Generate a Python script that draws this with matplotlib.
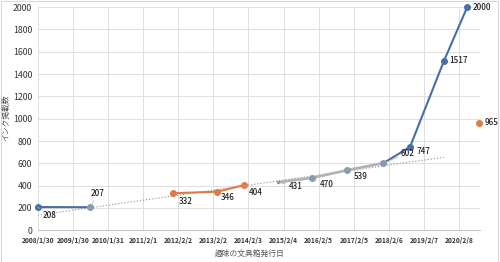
import matplotlib
matplotlib.use("Agg")
import matplotlib.pyplot as plt
import matplotlib.dates as mdates
from matplotlib.patches import Rectangle
from datetime import datetime, timedelta

plt.rcParams['font.family'] = ['Noto Sans CJK JP', 'DejaVu Sans']

def d(s):
    return datetime.strptime(s, "%Y/%m/%d")

# ---- data ----
blue1_dates = ["2008/1/30", "2009/7/28"]
blue1_values = [208, 207]
orange_dates = ["2011/12/7", "2013/3/15", "2013/12/15"]
orange_values = [332, 346, 404]
gray_dates = ["2014/12/11", "2015/11/30", "2016/11/29", "2017/12/10"]
gray_values = [431, 470, 539, 602]
blue2_dates = ["2017/12/10", "2018/9/13", "2019/9/1", "2020/5/1"]
blue2_values = [602, 747, 1517, 2000]
orange2_dates = ["2020/8/28"]
orange2_values = [965]
trend_dates = ["2008/1/30", "2019/9/1"]
trend_values = [135, 655]

tick_labels = ["2008/1/30", "2009/1/30", "2010/1/31", "2011/2/1", "2012/2/2",
               "2013/2/2", "2014/2/3", "2015/2/4", "2016/2/5", "2017/2/5",
               "2018/2/6", "2019/2/7", "2020/2/8"]
y_ticks = list(range(0, 2001, 200))

# label offsets in pixels (dx, dy down-positive), leader line flag
labels = [
    ("2008/1/30", 208, "208", 12, 8, True),
    ("2009/7/28", 207, "207", 8, -14, True),
    ("2011/12/7", 332, "332", 13, 8, True),
    ("2013/3/15", 346, "346", 10, 6, False),
    ("2013/12/15", 404, "404", 12, 7, True),
    ("2014/12/11", 431, "431", 17, 4, True),
    ("2015/11/30", 470, "470", 14, 7, True),
    ("2016/11/29", 539, "539", 13, 6, True),
    ("2017/12/10", 602, "602", 24, -10, True),
    ("2018/9/13", 747, "747", 13, 5, False),
    ("2019/9/1", 1517, "1517", 14.5, 0, False),
    ("2020/5/1", 2000, "2000", 14.5, 0, False),
    ("2020/8/28", 965, "965", 12.5, 0, False),
]

BLUE = "#4a6fa5"
ORANGE = "#e07a45"
GRAYLINE = "#b4b4b4"
GRAYMK = "#8a9bb0"
TXT = "#333333"

fig = plt.figure(figsize=(5.0, 2.62), dpi=100)
fig.patches.append(Rectangle((0.001, 0.001), 0.995, 0.997, transform=fig.transFigure,
                             fill=False, edgecolor="#d8d8d8", lw=0.8))
ax = fig.add_axes([0.0754, 0.121, 0.8846, 0.852])

x0 = d(tick_labels[0])
ax.set_xlim(x0, x0 + timedelta(days=4608))
ax.set_ylim(0, 2000)

ax.set_xticks([d(t) for t in tick_labels])
ax.set_xticklabels(tick_labels, fontsize=4.8, color=TXT, fontweight="bold")
ax.set_yticks(y_ticks)
ax.set_yticklabels([str(v) for v in y_ticks], fontsize=6.3, color=TXT)
ax.tick_params(length=0, pad=4)
ax.tick_params(axis="x", pad=5)
ax.grid(True, color="#dedede", lw=0.7)
ax.set_axisbelow(True)
for s in ["top", "right", "left"]:
    ax.spines[s].set_visible(False)
ax.spines["bottom"].set_color("#c8c8c8")
ax.spines["bottom"].set_linewidth(0.8)

# trendline
ax.plot([d(t) for t in trend_dates], trend_values, color="#a0a0a0", lw=0.9,
        ls=(0, (1, 1.5)), zorder=2)

ax.plot([d(t) for t in blue1_dates], blue1_values, color=BLUE, lw=1.5, zorder=3)
ax.plot([d(t) for t in blue1_dates[:1]], blue1_values[:1], "o", color=BLUE, ms=4, zorder=4, clip_on=False)
ax.plot([d(t) for t in blue1_dates[1:]], blue1_values[1:], "o", color=GRAYMK, ms=4, zorder=4)

ax.plot([d(t) for t in orange_dates], orange_values, color=ORANGE, lw=1.5,
        marker="o", ms=4, zorder=3)

ax.plot([d(t) for t in gray_dates], gray_values, color=GRAYLINE, lw=2.0, zorder=3)
ax.plot([d(t) for t in gray_dates[1:]], gray_values[1:], "o", color=GRAYMK, ms=4, zorder=5)
ax.plot([d(t) for t in gray_dates[:1]], gray_values[:1], "o", color=GRAYMK, ms=1.5, zorder=5)

ax.plot([d(t) for t in blue2_dates], blue2_values, color=BLUE, lw=1.5, zorder=4)
ax.plot([d(t) for t in blue2_dates[1:]], blue2_values[1:], "o", color=BLUE, ms=4,
        zorder=5, clip_on=False)

ax.plot([d(t) for t in orange2_dates], orange2_values, "o", color=ORANGE, ms=4,
        zorder=5, clip_on=False)

px = 72 / 100.0
for dt, v, txt, dx, dy, leader in labels:
    kw = {}
    if leader:
        kw["arrowprops"] = dict(arrowstyle="-", color="#b0b0b0", lw=0.5,
                                shrinkA=0, shrinkB=2)
    ax.annotate(txt, xy=(d(dt), v), xytext=(dx * px, -dy * px),
                textcoords="offset points", ha="center", va="center",
                fontsize=5.8, color="#222222", fontweight="medium", annotation_clip=False,
                zorder=6, **kw)

fig.text(0.5, 0.033, "趣味の文具箱発行日", ha="center", va="center",
         fontsize=5.6, color="#555555")
fig.text(0.012, 0.55, "インク掲載数", ha="center", va="center", rotation=90,
         fontsize=5.6, color="#555555")

fig.savefig("out.png", dpi=100)
